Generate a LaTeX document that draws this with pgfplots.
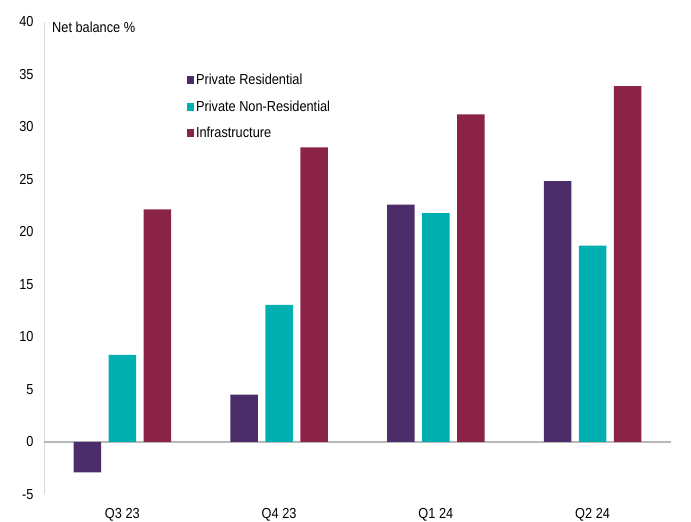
\documentclass[border=0pt]{standalone}
\usepackage{pgfplots}
\pgfplotsset{compat=1.18}
\usepackage{fontspec}
\setmainfont{Liberation Sans}[FakeStretch=0.88]
\definecolor{cPR}{HTML}{4B2E69}
\definecolor{cPNR}{HTML}{00B0B0}
\definecolor{cINF}{HTML}{8A2346}
\definecolor{axgray}{HTML}{D9D9D9}
\newcommand{\chfont}{\fontsize{14.5}{17}\selectfont}
\begin{document}
\begin{tikzpicture}
\path[use as bounding box] (-44pt,-27.5pt) rectangle (647pt,494.5pt);
\begin{axis}[
  at={(0pt,0pt)}, anchor=south west,
  scale only axis, width=627pt, height=472.5pt,
  xmin=-0.5, xmax=3.5, ymin=-5, ymax=40,
  ybar=7.5pt, bar width=27.5pt,
  axis x line=none,
  axis y line*=left,
  y axis line style={draw=axgray, line width=0.8pt, -},
  ytick={-5,0,...,40},
  major tick length=0pt,
  yticklabel style={font=\chfont, xshift=-7pt},
  /pgf/number format/assume math mode=true,
  xtick=data,
  clip=false,
  legend style={at={(0.227,0.894)}, anchor=north west, draw=none, fill=none,
    font=\chfont, row sep=10.3pt, inner sep=0pt,
    /tikz/every even column/.append style={column sep=1pt}},
  legend cell align=left,
  legend image code/.code={\fill[#1,draw=none] (0pt,-4pt) rectangle (7.5pt,4pt);},
]
\draw[draw=axgray!70!black!50!axgray, line width=1.6pt] (axis cs:-0.5,0) -- (axis cs:3.5,0);
\addplot[fill=cPR, draw=none] coordinates {(0,-2.9) (1,4.5) (2,22.6) (3,24.85)};
\addplot[fill=cPNR, draw=none] coordinates {(0,8.3) (1,13.05) (2,21.8) (3,18.7)};
\addplot[fill=cINF, draw=none] coordinates {(0,22.15) (1,28.05) (2,31.2) (3,33.9)};
\legend{Private Residential, Private Non-Residential, Infrastructure}
\foreach \i/\lab in {0/Q3 23,1/Q4 23,2/Q1 24,3/Q2 24}{
  \edef\tmp{\noexpand\node[font=\noexpand\chfont] at (axis cs:\i,-5) [yshift=-20pt] {\lab};}
  \tmp
}
\node[anchor=west, font=\chfont, inner sep=0pt] at (axis cs:-0.449,39.5) {Net balance \%};
\end{axis}
\end{tikzpicture}
\end{document}
